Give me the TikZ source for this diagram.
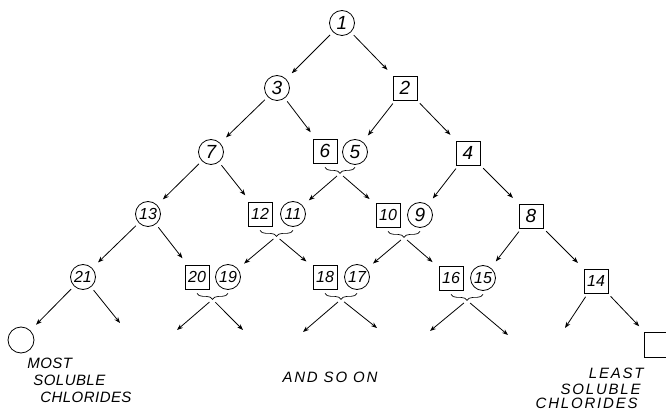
\documentclass[tikz,border=0pt]{standalone}
\usepackage{fontspec}
\setsansfont{Liberation Sans}
\usetikzlibrary{arrows.meta,calc,decorations.pathreplacing}

\begin{document}
\begin{tikzpicture}[x=1pt,y=-1pt,line width=0.8pt,
    circ/.style={draw,circle,minimum size=25pt,inner sep=0pt,
      font=\sffamily\itshape\fontsize{19}{19}\selectfont},
    sq/.style={draw,rectangle,minimum size=24pt,inner sep=0pt,
      font=\sffamily\itshape\fontsize{19}{19}\selectfont},
    two/.style={font=\sffamily\itshape\fontsize{16}{16}\selectfont},
    brc/.style={decorate,decoration={brace,mirror,amplitude=6pt},line width=0.7pt},
    arr/.style={-{Stealth[length=6pt,width=4.5pt]},shorten <=4pt,shorten >=8pt},
    lbl/.style={font=\sffamily\itshape\fontsize{15}{15}\selectfont\addfontfeature{LetterSpace=3},inner sep=0pt},
    wide/.style={font=\sffamily\itshape\fontsize{15}{15}\selectfont\addfontfeature{LetterSpace=12}}]
  \useasboundingbox (0,0) rectangle (666,411);
  \draw
    (342,23) node[circ] (c1) {1}
    (277,88) node[circ] (c3) {3}
    (405,88) node[sq] (s2) {2}
    (211,152) node[circ] (c7) {7}
    (325,151) node[sq] (s6) {6}
    (355,152) node[circ] (c5) {5}
    (468,153) node[sq] (s4) {4}
    (148,214) node[circ,two] (c13) {13}
    (260,214) node[sq,two] (s12) {12}
    (293,214) node[circ,two] (c11) {11}
    (388,215) node[sq,two] (s10) {10}
    (420,215) node[circ] (c9) {9}
    (531,216) node[sq] (s8) {8}
    (83,277) node[circ,two] (c21) {21}
    (197,277) node[sq,two] (s20) {20}
    (228,277) node[circ,two] (c19) {19}
    (325,277) node[sq,two] (s18) {18}
    (357,277) node[circ,two] (c17) {17}
    (451,278) node[sq,two] (s16) {16}
    (483,278) node[circ,two] (c15) {15}
    (596,281) node[sq,two] (s14) {14}
    (21,340) node[circ,minimum size=26pt] (most) {}
    (657,345) node[sq,minimum size=25pt] (least) {};
  % free ends of the last row
  \coordinate (e1) at (120,323);
  \coordinate (e2) at (177,330);
  \coordinate (e3) at (243,330);
  \coordinate (e4) at (303,332);
  \coordinate (e5) at (377,328);
  \coordinate (e6) at (430,331);
  \coordinate (e7) at (508,335);
  \coordinate (e8) at (565,328);
  % braces under the pairs
  \draw[brc] ($(s6.south)+(0,4)$) -- ($(s6.south -| c5)+(0,4)$);
  \draw[brc] ($(s12.south)+(0,4)$) -- ($(s12.south -| c11)+(0,4)$);
  \draw[brc] ($(s10.south)+(0,4)$) -- ($(s10.south -| c9)+(0,4)$);
  \draw[brc] ($(s20.south)+(0,4)$) -- ($(s20.south -| c19)+(0,4)$);
  \draw[brc] ($(s18.south)+(0,4)$) -- ($(s18.south -| c17)+(0,4)$);
  \draw[brc] ($(s16.south)+(0,4)$) -- ($(s16.south -| c15)+(0,4)$);
  \coordinate (b6) at ($(s6.south)!.5!(s6.south -| c5)+(0,10)$);
  \coordinate (b12) at ($(s12.south)!.5!(s12.south -| c11)+(0,10)$);
  \coordinate (b10) at ($(s10.south)!.5!(s10.south -| c9)+(0,10)$);
  \coordinate (b20) at ($(s20.south)!.5!(s20.south -| c19)+(0,10)$);
  \coordinate (b18) at ($(s18.south)!.5!(s18.south -| c17)+(0,10)$);
  \coordinate (b16) at ($(s16.south)!.5!(s16.south -| c15)+(0,10)$);
  \begin{scope}[arr]
    \draw (c1) to (c3);
    \draw (c1) to (s2);
    \draw (c3) to (c7);
    \draw (c3) to (s6);
    \draw (s2) to (c5);
    \draw (s2) to (s4);
    \draw (c7) to (c13);
    \draw (c7) to (s12);
    \draw (b6) to (c11);
    \draw (b6) to (s10);
    \draw (s4) to (c9);
    \draw (s4) to (s8);
    \draw (c13) to (c21);
    \draw (c13) to (s20);
    \draw (b12) to (c19);
    \draw (b12) to (s18);
    \draw (b10) to (c17);
    \draw (b10) to (s16);
    \draw (s8) to (c15);
    \draw (s8) to (s14);
    \draw (c21) to (most);
    \draw[shorten >=0pt] (c21) to (e1);
    \draw[shorten >=0pt] (b20) to (e2);
    \draw[shorten >=0pt] (b20) to (e3);
    \draw[shorten >=0pt] (b18) to (e4);
    \draw[shorten >=0pt] (b18) to (e5);
    \draw[shorten >=0pt] (b16) to (e6);
    \draw[shorten >=0pt] (b16) to (e7);
    \draw[shorten >=0pt] (s14) to (e8);
    \draw (s14) to (least);
  \end{scope}
  \node[lbl,anchor=base west] (t1) at (27,368) {MOST};
  \node[lbl,anchor=base west] (t2) at (33,385) {SOLUBLE};
  \node[lbl,anchor=base west] (t3) at (40,402) {CHLORIDES};
  \node[lbl,wide,anchor=base] (t4) at (330,382) {AND SO ON};
  \node[lbl,wide,anchor=base east] (t5) at (644,378) {LEAST};
  \node[lbl,wide,anchor=base east] (t6) at (641,394) {SOLUBLE};
  \node[lbl,wide,anchor=base east] (t7) at (638,408) {CHLORIDES};
\end{tikzpicture}
\end{document}
